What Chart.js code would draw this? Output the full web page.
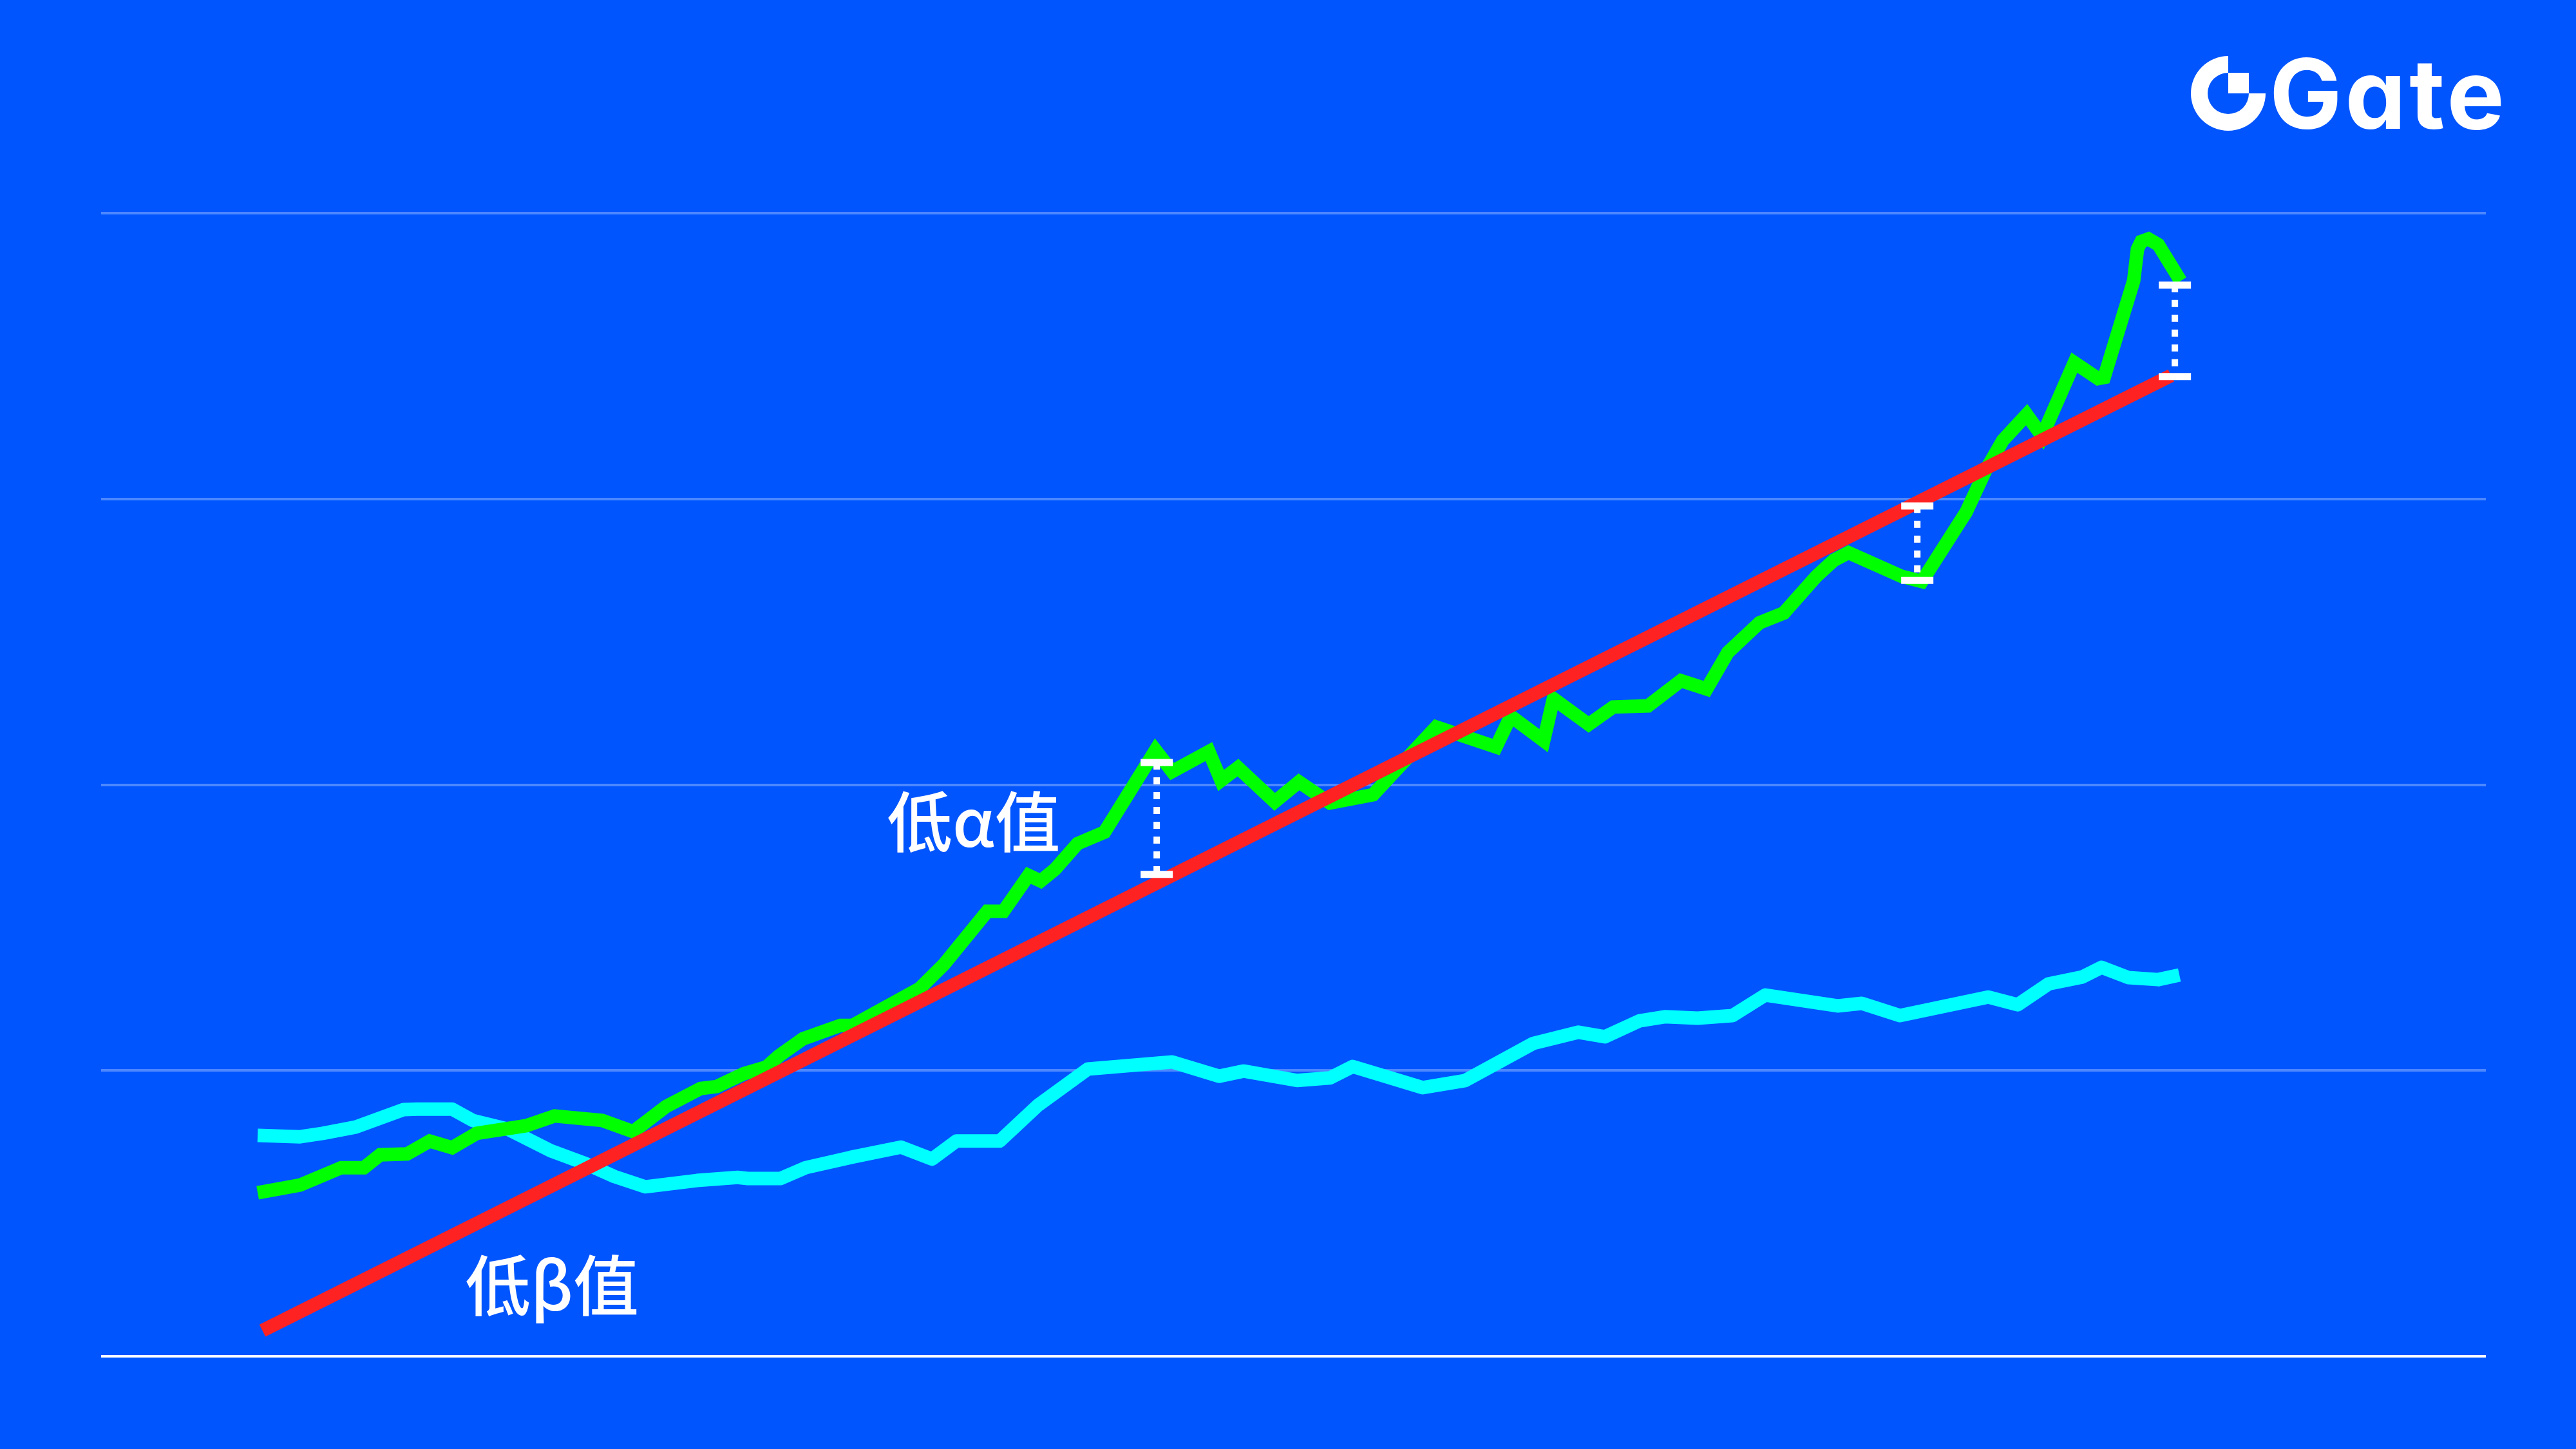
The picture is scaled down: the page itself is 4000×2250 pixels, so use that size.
<!DOCTYPE html>
<html>
<head>
<meta charset="utf-8">
<script src="https://cdn.jsdelivr.net/npm/chart.js@4.4.1/dist/chart.umd.min.js"></script>
<style>
html,body{margin:0;padding:0;background:#0055FF;}
#wrap{position:relative;width:4000px;height:2250px;background:#0055FF;overflow:hidden;}
#c{position:absolute;left:0;top:0;}
#logo{position:absolute;left:0;top:0;}
</style>
</head>
<body>
<div id="wrap">
<canvas id="c" width="4000" height="2250"></canvas>
<svg id="logo" width="4000" height="300" viewBox="0 0 4000 300">
  <path d="M3460,87 A58,58 0 1 0 3518,145 L3492,145 A32,32 0 1 1 3460,113 Z" fill="#ffffff"/>
  <rect x="3460" y="113" width="32" height="32" fill="#ffffff"/>
  <text x="3524" y="200" font-family="Inter, 'Open Sans', sans-serif" font-weight="700" font-size="150" letter-spacing="5" fill="#ffffff" style="font-feature-settings:'cv11' 1;">Gate</text>
</svg>
</div>
<script>
// ---- data (x: time index, y: value) ----
const greenX = [0,1.78,3.51,4.46,5.14,6.27,7.22,8.16,9.19,11.27,12.46,14.46,15.76,17.14,18.59,19.27,20.41,21.35,21.86,22.89,24.46,24.97,27.78,28.81,30.62,31.30,32.35,32.86,33.46,34.41,35.54,37.68,38.38,39.92,40.43,41.14,42.68,43.70,45.0,46.81,49.46,51.97,52.59,53.97,54.38,55.86,56.89,58.35,59.73,60.81,61.70,63.03,64.05,65.41,66.14,66.76,69.0,69.84,71.70,72.51,73.24,74.24,74.89,76.24,77.24,77.49,78.73,78.89,79.05,79.35,79.76,80.70];
const greenY = [57.2,59.9,66.0,66.0,70.5,70.8,75.3,73.0,78.0,80.7,84.1,82.5,78.6,87.4,93.7,94.4,98.9,101.2,105.0,111.1,115.8,115.8,128.7,137.2,155.7,155.7,168.3,166.3,170.4,179.4,183.4,212.1,204.6,211.6,201.5,206.0,194.0,201.0,193.6,196.5,220.2,213.2,224.0,215.4,230.1,221.1,227.2,227.6,236.4,233.5,246.3,256.7,260.1,272.9,278.5,281.2,272.9,271.1,295.4,309.9,320.5,329.5,322.0,347.7,342.1,342.5,376.3,387.4,390.1,391.0,389.0,376.3];

const cyanX = [0,1.78,2.73,4.11,6.11,6.70,8.16,9.03,10.49,12.30,13.76,14.97,16.27,18.43,20.14,20.57,21.95,23.0,24.89,27.0,28.30,29.32,31.14,32.76,34.84,38.38,40.35,41.38,43.62,45.0,45.95,48.89,50.68,53.54,55.43,56.54,58.0,59.05,60.43,61.89,63.27,66.30,67.32,68.92,72.62,73.86,75.16,76.57,77.38,78.51,79.76,80.65];
const cyanY = [77.3,76.8,78.0,80.2,86.3,86.5,86.5,82.5,79.5,71.9,67.4,62.9,59.3,61.5,62.6,62.2,62.2,66.0,69.6,73.2,69.0,75.3,75.3,87.9,100.5,103.0,98.0,99.8,96.5,97.4,101.4,94.0,96.5,109.5,113.4,111.8,117.4,118.8,118.3,119.2,126.4,122.6,123.5,119.2,125.7,123.0,130.3,132.7,136.1,132.5,131.8,133.4];

const trendX = [0.2, 80.3];
const trendY = [9.0, 343.2];

// alpha gaps: x, top value, bottom value
const gapX = [37.73, 69.65, 80.46];
const gapTop = [207.8, 297.5, 374.8];
const gapBottom = [168.6, 271.5, 342.8];

const labelText = ['低α值', '低β值'];
const labelX = [26.4, 8.7];
const labelY = [178.3, 16.0];

const yTicks = [0, 100, 200, 300, 400];

// ---- build ----
const pts = (xs, ys) => xs.map((x, i) => ({x: x, y: ys[i]}));
const capPts = [];
gapX.forEach((x, i) => { capPts.push({x: x, y: gapTop[i]}); capPts.push({x: x, y: gapBottom[i]}); });

const dashSets = gapX.map((x, i) => ({
  data: [{x: x, y: gapTop[i]}, {x: x, y: gapBottom[i]}],
  borderColor: '#ffffff', borderWidth: 10, borderDash: [11, 12], pointRadius: 0, clip: false
}));

const labelPlugin = {
  id: 'labels',
  afterDatasetsDraw(chart) {
    const c = chart.ctx, xs = chart.scales.x, ys = chart.scales.y;
    c.save();
    c.fillStyle = '#ffffff';
    c.font = '500 102px "Noto Sans CJK SC", "Noto Sans", sans-serif';
    c.textAlign = 'left';
    c.textBaseline = 'alphabetic';
    labelText.forEach((t, i) => {
      c.fillText(t, xs.getPixelForValue(labelX[i]), ys.getPixelForValue(labelY[i]));
    });
    c.restore();
  }
};

new Chart(document.getElementById('c').getContext('2d'), {
  type: 'line',
  data: {
    datasets: [
      {data: capPts, showLine: false, pointStyle: 'line', pointRadius: 25, pointBorderWidth: 11,
       pointBorderColor: '#ffffff', pointBackgroundColor: '#ffffff', clip: false},
      ...dashSets,
      {data: pts(trendX, trendY), borderColor: '#FF2222', borderWidth: 21, pointRadius: 0, tension: 0, clip: false},
      {data: pts(greenX, greenY), borderColor: '#00FF00', borderWidth: 21, pointRadius: 0, tension: 0,
       borderJoinStyle: 'miter', clip: false},
      {data: pts(cyanX, cyanY), borderColor: '#00FFFF', borderWidth: 21, pointRadius: 0, tension: 0,
       borderJoinStyle: 'round', clip: false}
    ]
  },
  options: {
    responsive: false,
    animation: false,
    devicePixelRatio: 1,
    events: [],
    layout: {padding: {left: 157, right: 140, top: 331, bottom: 144}},
    plugins: {legend: {display: false}, tooltip: {enabled: false}},
    scales: {
      x: {type: 'linear', min: -6.57, max: 93.51, display: false},
      y: {
        type: 'linear', min: yTicks[0], max: yTicks[yTicks.length - 1],
        afterBuildTicks: (s) => { s.ticks = yTicks.map(v => ({value: v})); },
        ticks: {display: false},
        border: {display: false},
        grid: {drawTicks: false, lineWidth: 4,
               color: (ctx) => ctx.tick && ctx.tick.value === 0 ? '#ffffff' : 'rgba(255,255,255,0.3)'}
      }
    }
  },
  plugins: [labelPlugin]
});
</script>
</body>
</html>
